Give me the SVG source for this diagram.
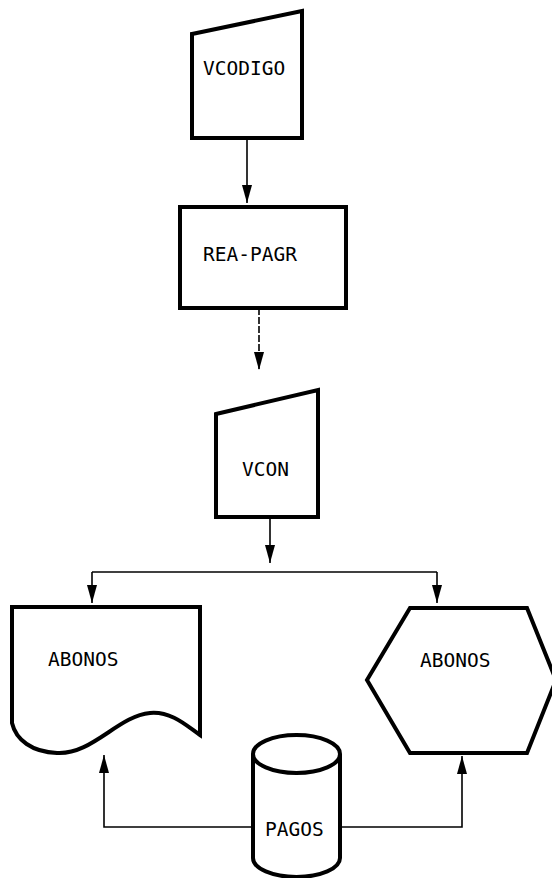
<svg xmlns="http://www.w3.org/2000/svg" width="552" height="878" viewBox="0 0 552 878">
<style>
.shape{fill:#fff;stroke:#000;stroke-width:4;stroke-linejoin:miter}
.conn{fill:none;stroke:#000;stroke-width:1.6}
.dash{stroke-dasharray:7 2}
.lbl{font-family:"DejaVu Sans Mono","Liberation Mono",monospace;font-size:19.5px;fill:#000}
</style>
<defs>
<marker id="ah" viewBox="0 0 10 18" refX="10" refY="9" markerWidth="10" markerHeight="18" markerUnits="userSpaceOnUse" orient="auto">
<path d="M0,4 L10,9 L0,14 Z" fill="#000"/>
</marker>
<marker id="ahl" viewBox="0 0 18 10" refX="18" refY="5" markerWidth="18" markerHeight="10" markerUnits="userSpaceOnUse" orient="auto">
<path d="M0,0 L18,5 L0,10 Z" fill="#000"/>
</marker>
</defs>
<rect width="552" height="878" fill="#fff"/>
<g id="connectors">
<path class="conn" d="M247,138 V203" marker-end="url(#ahl)"/>
<path class="conn dash" d="M259,308 V370" marker-end="url(#ahl)"/>
<path class="conn" d="M270,517 V563" marker-end="url(#ahl)"/>
<path class="conn" d="M92,572 H437"/>
<path class="conn" d="M92,572 V603" marker-end="url(#ahl)"/>
<path class="conn" d="M437,572 V603" marker-end="url(#ahl)"/>
<path class="conn" d="M253,827 H104 V755" marker-end="url(#ahl)"/>
<path class="conn" d="M340,827 H462 V756" marker-end="url(#ahl)"/>
</g>
<g id="vcodigo">
<path class="shape" d="M192,34 L302,11 V138 H192 Z"/>
<text class="lbl" x="203" y="75">VCODIGO</text>
</g>
<g id="rea-pagr">
<rect class="shape" x="180" y="207" width="166" height="101"/>
<text class="lbl" x="203" y="261">REA-PAGR</text>
</g>
<g id="vcon">
<path class="shape" d="M216,414 L318,390 V517 H216 Z"/>
<text class="lbl" x="242" y="476">VCON</text>
</g>
<g id="abonos-doc">
<path class="shape" d="M12,607 H200 V735 C188,727 172,711 150,713 C118,716 92,755 57,753 C32,752 16,740 12,723 Z"/>
<text class="lbl" x="48" y="666">ABONOS</text>
</g>
<g id="abonos-display">
<path class="shape" d="M410,608 H527 L556,680 L527,753 H410 L367,680 Z"/>
<text class="lbl" x="420" y="667">ABONOS</text>
</g>
<g id="pagos">
<path class="shape" d="M253,754 V858 A43.5,19 0 0 0 340,858 V754"/>
<ellipse class="shape" cx="296.5" cy="754" rx="43.5" ry="19"/>
<text class="lbl" x="265" y="836">PAGOS</text>
</g>
</svg>
